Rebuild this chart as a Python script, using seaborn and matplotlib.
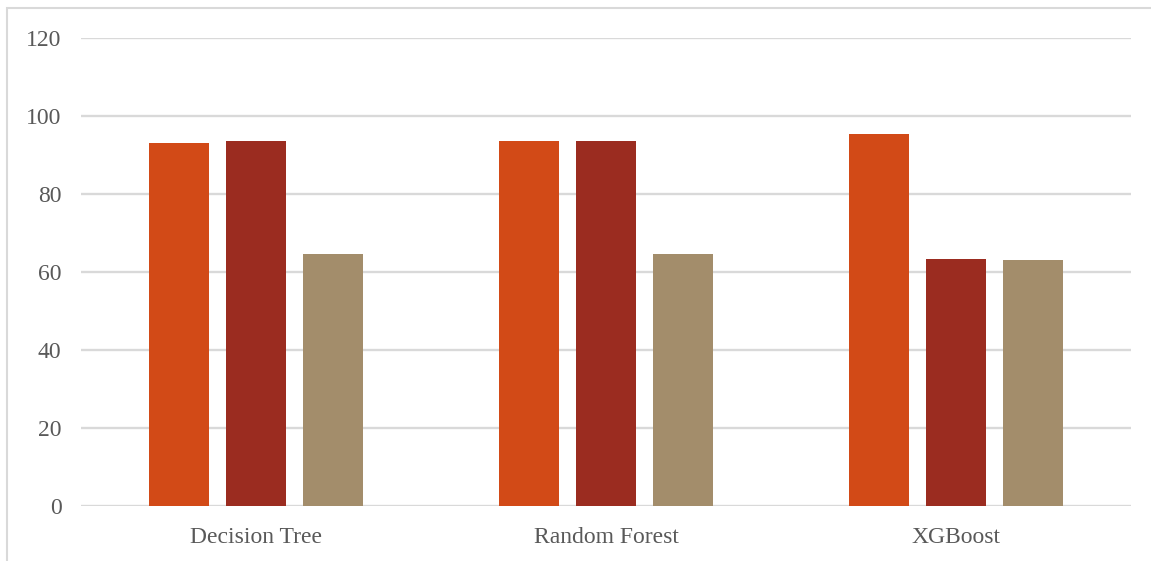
import matplotlib
matplotlib.use("Agg")
import matplotlib.pyplot as plt
import seaborn as sns
import pandas as pd
from matplotlib.patches import Rectangle

models = ["Decision Tree", "Random Forest", "XGBoost"]
series_names = ["Series 1", "Series 2", "Series 3"]
series1 = [93.0, 93.5, 95.4]
series2 = [93.6, 93.6, 63.2]
series3 = [64.5, 64.5, 63.1]
colors = ["#D24A17", "#9B2C20", "#A38D6B"]
yticks = [0, 20, 40, 60, 80, 100, 120]

rows = []
for name, vals in zip(series_names, [series1, series2, series3]):
    for m, v in zip(models, vals):
        rows.append({"model": m, "series": name, "value": v})
df = pd.DataFrame(rows)

sns.set_theme(style="white")
plt.rcParams["font.family"] = ["Liberation Serif", "DejaVu Serif"]

fig = plt.figure(figsize=(11.51, 5.61), dpi=100)
ax = fig.add_axes([81 / 1151, 1 - 506 / 561, 1050 / 1151, (506 - 37.7) / 561])

sns.barplot(data=df, x="model", y="value", hue="series", order=models,
            hue_order=series_names, palette=colors, width=0.66, gap=0.21,
            saturation=1, legend=False, ax=ax, zorder=3, linewidth=0)

ax.set_ylim(0, 120)
ax.set_xlim(-0.5, 2.5)
ax.set_yticks(yticks)
ax.set_xlabel("")
ax.set_ylabel("")
ax.yaxis.grid(True, color="#D9D9D9", linewidth=1.7, zorder=0)
ax.set_axisbelow(True)
for s in ax.spines.values():
    s.set_visible(False)
ax.tick_params(axis="y", length=0, pad=14, labelsize=17, labelcolor="#595959")
ax.tick_params(axis="x", length=0, pad=15, labelsize=17, labelcolor="#595959")

fig.patches.append(Rectangle((7 / 1151, -0.1), 1.2, 1 - 8 / 561 + 0.1,
                             transform=fig.transFigure, fill=False,
                             edgecolor="#D9D9D9", linewidth=1.5))

fig.savefig("out.png", dpi=100)
